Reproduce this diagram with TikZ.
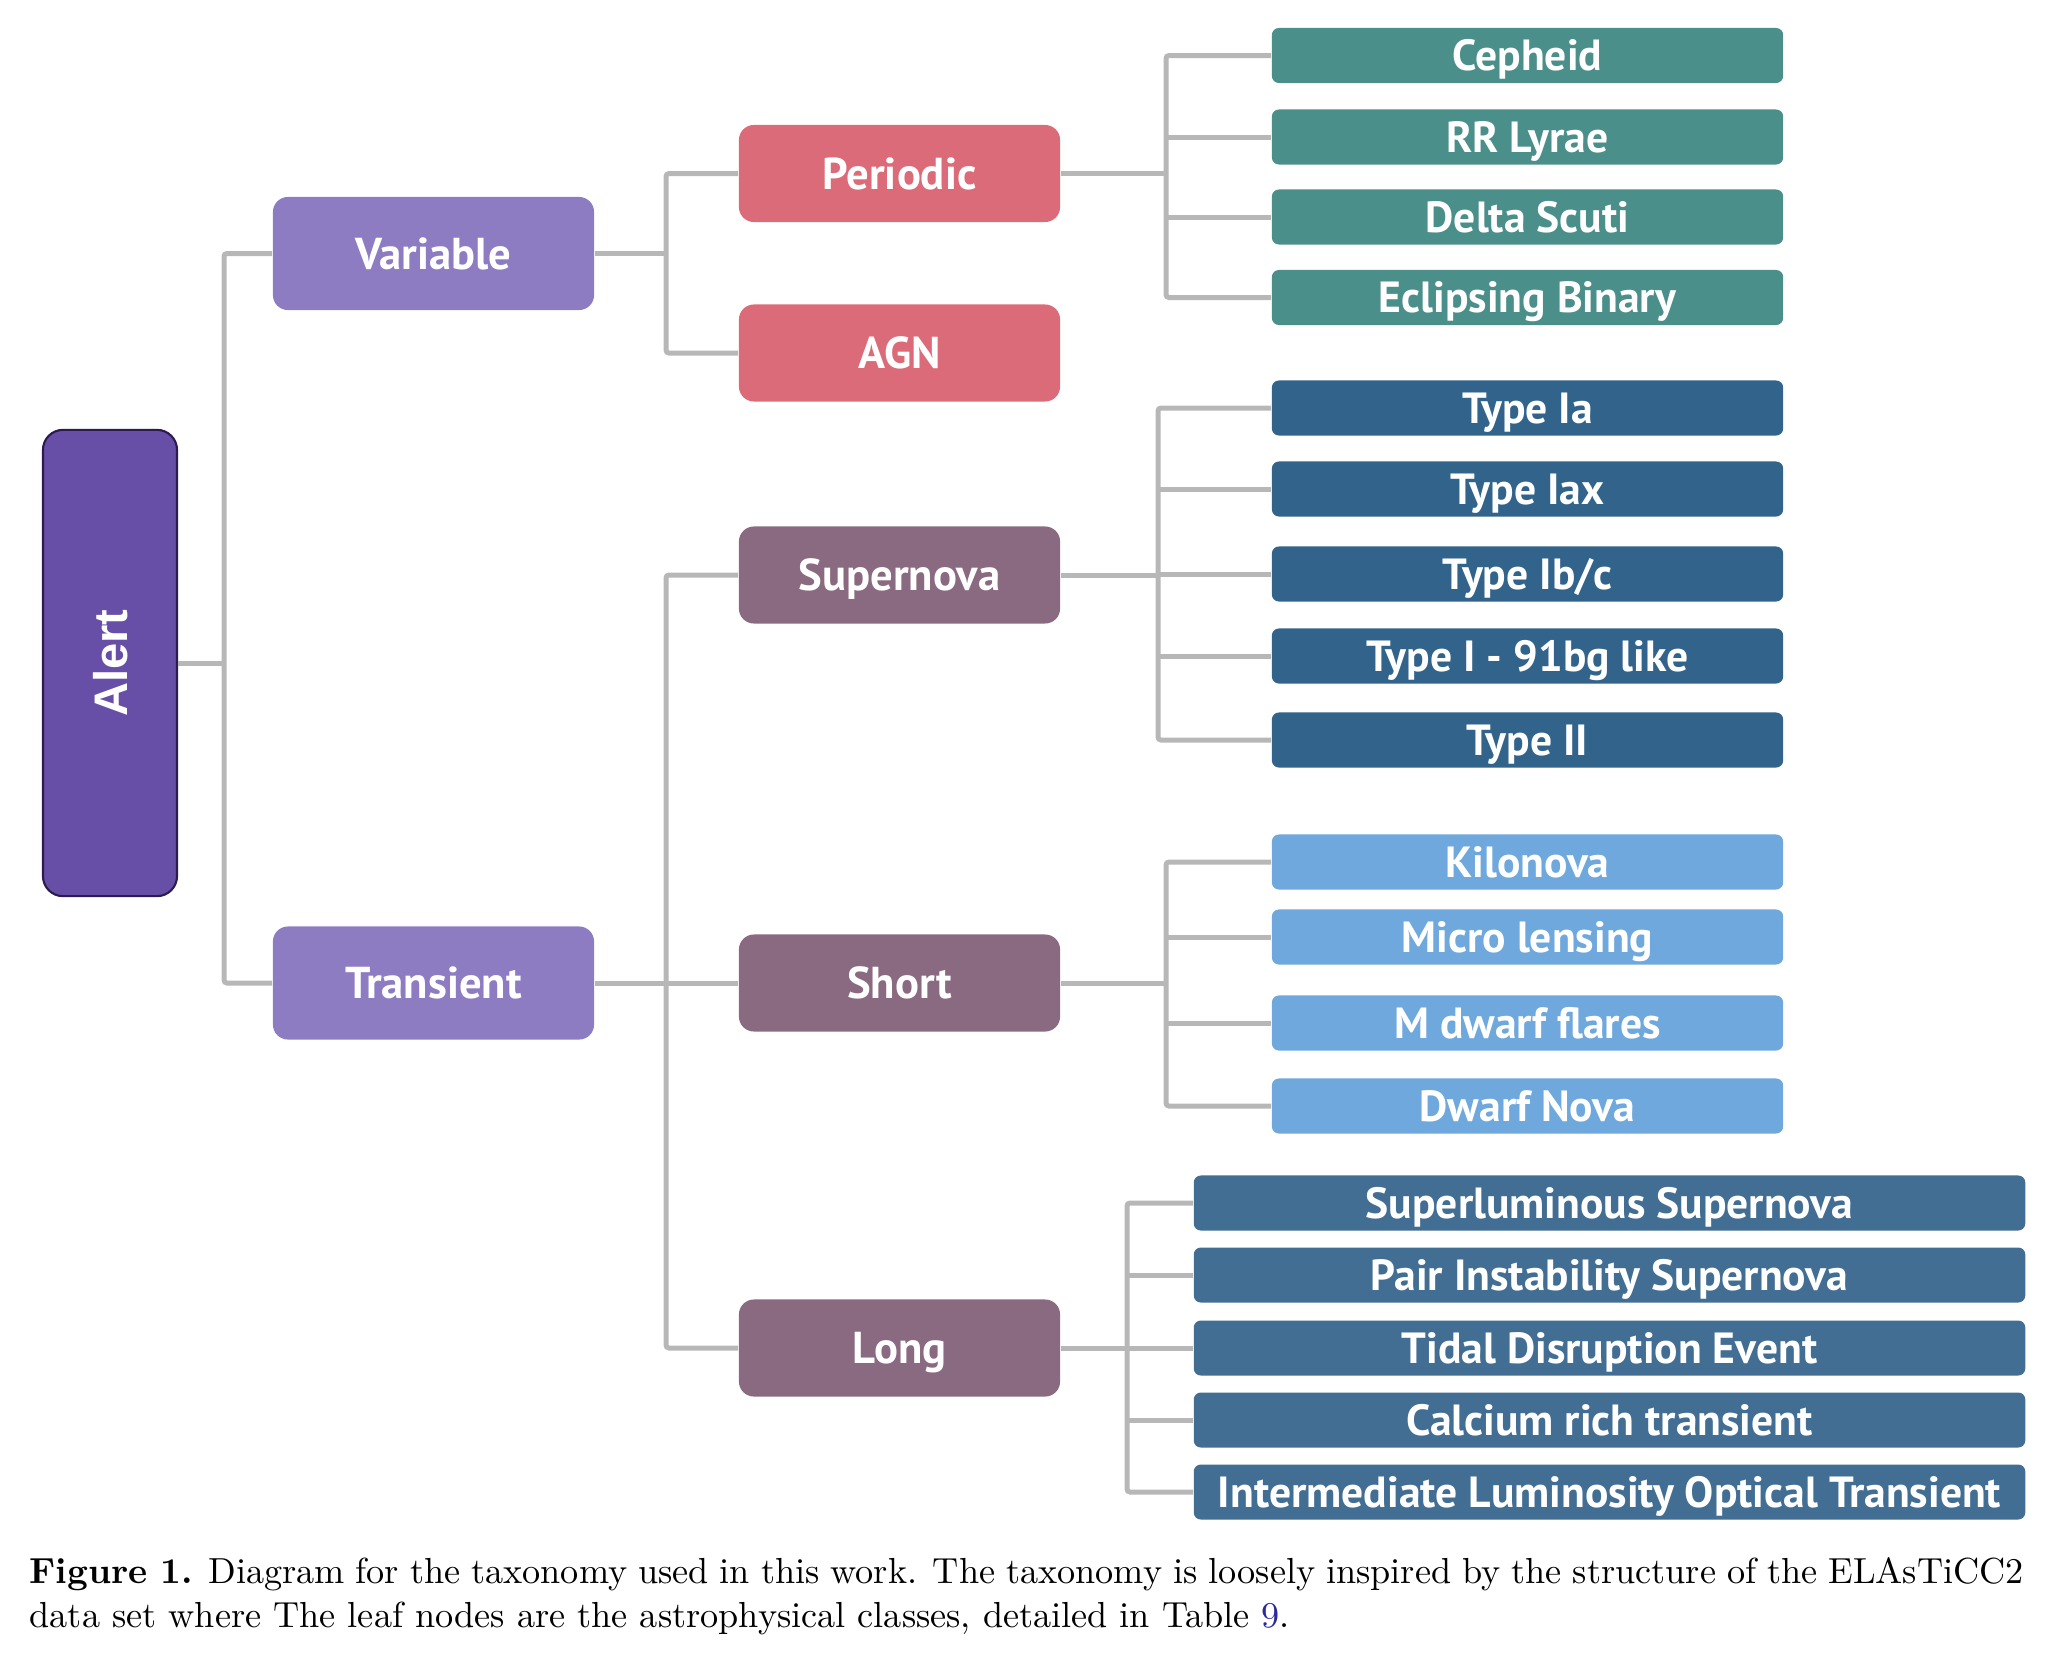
\documentclass[tikz,border=0pt]{standalone}
\usepackage{fontspec}
\newfontfamily\labfont{PT Sans}
\newfontfamily\alertfont{Liberation Sans}
\definecolor{alertc}{HTML}{674EA7}
\definecolor{alertb}{HTML}{2B1B4F}
\definecolor{varc}{HTML}{8E7CC3}
\definecolor{perc}{HTML}{DC6B79}
\definecolor{snc}{HTML}{8A6A80}
\definecolor{tealc}{HTML}{4B8F8B}
\definecolor{typec}{HTML}{32648B}
\definecolor{shortc}{HTML}{6FA8DC}
\definecolor{longc}{HTML}{436E94}
\definecolor{linegray}{HTML}{B7B7B7}
\definecolor{linkblue}{HTML}{2A2A9A}
\tikzset{
  conn/.style={draw=linegray, line width=0.05cm, rounded corners=0.03cm},
  midbox/.style={rounded corners=0.15cm, minimum width=3.21cm, text=white,
    font=\labfont\bfseries\fontsize{12.7}{14}\selectfont, inner sep=0pt,
    text height=0.31cm, text depth=0pt},
  leafbox/.style={rounded corners=0.07cm, minimum width=5.11cm, minimum height=0.55cm,
    text=white, font=\labfont\bfseries\fontsize{12.4}{14}\selectfont, inner sep=0pt,
    text height=0.30cm, text depth=0pt},
  longbox/.style={leafbox, minimum width=8.31cm},
}
\begin{document}
\begin{tikzpicture}[x=0.01cm,y=-0.01cm]
\useasboundingbox (0,0) rectangle (2069,1657);
% root
\node[rounded corners=0.2cm, minimum width=1.34cm, minimum height=4.66cm,
  fill=alertc, draw=alertb, line width=0.6pt, inner sep=0pt] (alert) at (110,663) {};
\node[rotate=90, text=white, font=\alertfont\bfseries\fontsize{13.4}{15}\selectfont,
  text height=0.34cm, text depth=0pt, inner sep=0pt] (alertlab) at (110,663) {Alert};
% level 1
\node[midbox, fill=varc, minimum height=1.13cm] (var) at (433.5,253.5) {Variable};
\node[midbox, fill=varc, minimum height=1.13cm] (trans) at (433.5,983) {Transient};
% level 2
\node[midbox, fill=perc, minimum height=0.97cm] (per) at (899.5,173.5) {Periodic};
\node[midbox, fill=perc, minimum height=0.97cm] (agn) at (899.5,353) {AGN};
\node[midbox, fill=snc, minimum height=0.97cm] (sn) at (899.5,575) {Supernova};
\node[midbox, fill=snc, minimum height=0.97cm] (short) at (899.5,983) {Short};
\node[midbox, fill=snc, minimum height=0.97cm] (long) at (899.5,1348) {Long};
% leaves periodic
\node[leafbox, fill=tealc] (ceph) at (1527.5,55.5) {Cepheid};
\node[leafbox, fill=tealc] (rr) at (1527.5,137) {RR Lyrae};
\node[leafbox, fill=tealc] (ds) at (1527.5,217) {Delta Scuti};
\node[leafbox, fill=tealc] (ecl) at (1527.5,297.5) {Eclipsing Binary};
% leaves supernova
\node[leafbox, fill=typec] (ia) at (1527.5,408) {Type Ia};
\node[leafbox, fill=typec] (iax) at (1527.5,489) {Type Iax};
\node[leafbox, fill=typec] (ibc) at (1527.5,574) {Type Ib/c};
\node[leafbox, fill=typec] (bg) at (1527.5,656) {Type I - 91bg like};
\node[leafbox, fill=typec] (ii) at (1527.5,740) {Type II};
% leaves short
\node[leafbox, fill=shortc] (kn) at (1527.5,862) {Kilonova};
\node[leafbox, fill=shortc] (ml) at (1527.5,937) {Micro lensing};
\node[leafbox, fill=shortc] (md) at (1527.5,1023) {M dwarf flares};
\node[leafbox, fill=shortc] (dn) at (1527.5,1106) {Dwarf Nova};
% leaves long
\node[longbox, fill=longc] (slsn) at (1609.5,1203) {Superluminous Supernova};
\node[longbox, fill=longc] (pisn) at (1609.5,1275) {Pair Instability Supernova};
\node[longbox, fill=longc] (tde) at (1609.5,1348) {Tidal Disruption Event};
\node[longbox, fill=longc] (ca) at (1609.5,1420) {Calcium rich transient};
\node[longbox, fill=longc] (ilot) at (1609.5,1492) {Intermediate Luminosity Optical Transient};
% trunk coordinates
\coordinate (tA) at (224,0);
\coordinate (tV) at (666,0);
\coordinate (tP) at (1166,0);
\coordinate (tS) at (1158,0);
\coordinate (tL) at (1127,0);
% connectors
\draw[conn] (alert.east) -- (alert.east -| tA);
\draw[conn] (var.west) -- (var.west -| tA) -- (trans.west -| tA) -- (trans.west);
\draw[conn] (var.east) -- (var.east -| tV);
\draw[conn] (per.west) -- (per.west -| tV) -- (agn.west -| tV) -- (agn.west);
\draw[conn] (trans.east) -- (short.west);
\draw[conn] (sn.west) -- (sn.west -| tV) -- (long.west -| tV) -- (long.west);
% periodic
\draw[conn] (per.east) -- (per.east -| tP);
\draw[conn] (ceph.west) -- (ceph.west -| tP) -- (ecl.west -| tP) -- (ecl.west);
\draw[conn] (rr.west) -- (rr.west -| tP);
\draw[conn] (ds.west) -- (ds.west -| tP);
% supernova
\draw[conn] (sn.east) -- (sn.east -| tS);
\draw[conn] (ia.west) -- (ia.west -| tS) -- (ii.west -| tS) -- (ii.west);
\draw[conn] (iax.west) -- (iax.west -| tS);
\draw[conn] (ibc.west) -- (ibc.west -| tS);
\draw[conn] (bg.west) -- (bg.west -| tS);
% short
\draw[conn] (short.east) -- (short.east -| tP);
\draw[conn] (kn.west) -- (kn.west -| tP) -- (dn.west -| tP) -- (dn.west);
\draw[conn] (ml.west) -- (ml.west -| tP);
\draw[conn] (md.west) -- (md.west -| tP);
% long
\draw[conn] (long.east) -- (long.east -| tL);
\draw[conn] (slsn.west) -- (slsn.west -| tL) -- (ilot.west -| tL) -- (ilot.west);
\draw[conn] (pisn.west) -- (pisn.west -| tL);
\draw[conn] (tde.west) -- (tde.west -| tL);
\draw[conn] (ca.west) -- (ca.west -| tL);
% caption
\node[anchor=base west, inner sep=0pt, font=\fontsize{10.3}{12}\selectfont] (cap1) at (29,1583)
  {\hbox to 19.93cm{\textbf{Figure 1.} Diagram for the taxonomy used in this work. The taxonomy is loosely inspired by the structure of the ELAsTiCC2}};
\node[anchor=base west, inner sep=0pt, font=\fontsize{10.3}{12}\selectfont] (cap2) at (29,1627)
  {data set where The leaf nodes are the astrophysical classes, detailed in Table \textcolor{linkblue}{9}.};
\end{tikzpicture}
\end{document}
